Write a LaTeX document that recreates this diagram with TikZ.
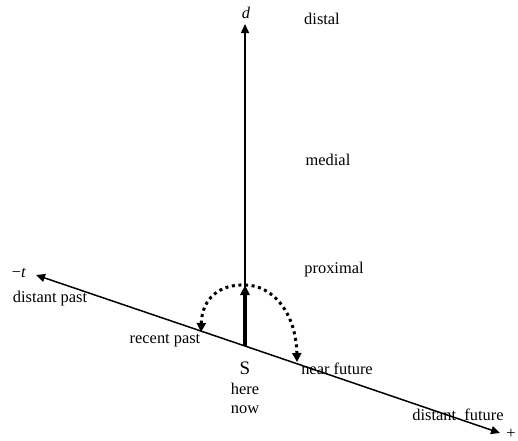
\documentclass[tikz,border=0pt]{standalone}
\usepackage{fontspec}
\setmainfont{Liberation Serif}
\usetikzlibrary{arrows.meta,positioning}

\tikzset{
  lbl/.style={font=\fontsize{8.2}{9.6}\selectfont, inner sep=0pt},
  axis/.style={line width=0.75pt, -{Triangle[length=4.5pt, width=4pt]}},
  dotarc/.style={line width=1.5pt, dash pattern=on 1.5pt off 1.8pt, {Triangle[length=4.5pt, width=4.5pt]}-{Triangle[length=4.5pt, width=4.5pt]}}
}

\begin{document}
\begin{tikzpicture}[x=0.5pt, y=-0.5pt]
  \useasboundingbox (0,0) rectangle (518,440);

  % axes
  \coordinate (S) at (245,346);
  \coordinate (dtop) at (245,24);
  \coordinate (tpast) at (36,275);
  \coordinate (tfut) at (500,433);
  \coordinate (prox) at (245,285);
  \coordinate (rpast) at (201,332);
  \coordinate (nfut) at (297,362);

  \draw[axis] (S) -- (dtop);
  \draw[axis] (S) -- (tpast);
  \draw[axis] (S) -- (tfut);
  \draw[line width=2pt, -{Triangle[length=5pt, width=4.5pt]}] (S) -- (prox);
  \draw[dotarc] (rpast) .. controls (202,298) and (220,284) .. (prox) .. controls (272,285) and (296,312) .. (nfut);

  % labels
  \node[lbl, font=\fontsize{8.2}{9.6}\selectfont\itshape] (dlab) at (246,13) {d};
  \node[lbl] (distal) at (322,19) {distal};
  \node[lbl] (medial) at (328,160) {medial};
  \node[lbl] (proximal) at (334,270) {proximal};
  \node[lbl] (tlab) at (19,273) {−\textit{t}};
  \node[lbl] (dpast) at (50,299) {distant past};
  \node[lbl] (recent) at (165,341) {recent past};
  \node[lbl, font=\fontsize{9.5}{11}\selectfont] (Slab) at (245,368) {S};
  \node[lbl, align=center] (herenow) at (245,398) {here\\now};
  \node[lbl] (near) at (337,369) {near future};
  \node[lbl] (dfut) at (458,415) {distant\ \ future};
  \node[lbl] (plus) at (511,434) {+};
\end{tikzpicture}
\end{document}
